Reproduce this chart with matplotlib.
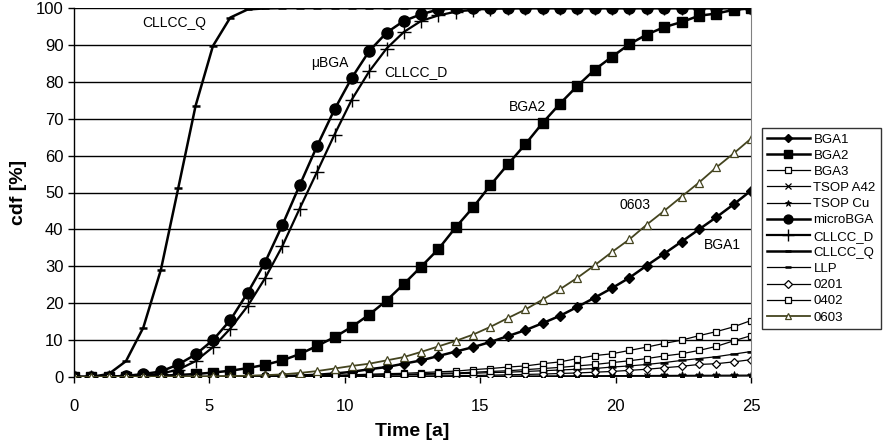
import numpy as np
import matplotlib.pyplot as plt

plt.rcParams['font.family'] = ['Liberation Sans', 'DejaVu Sans']

# time grid (40 points, 0..25 years)
time_a = [0.00, 0.64, 1.28, 1.92, 2.56, 3.21, 3.85, 4.49, 5.13, 5.77,
          6.41, 7.05, 7.69, 8.33, 8.97, 9.62, 10.26, 10.90, 11.54, 12.18,
          12.82, 13.46, 14.10, 14.74, 15.38, 16.03, 16.67, 17.31, 17.95, 18.59,
          19.23, 19.87, 20.51, 21.15, 21.79, 22.44, 23.08, 23.72, 24.36, 25.00]

bga1 = [0, 0, 0, 0, 0, 0, 0.02, 0.03, 0.05, 0.07,
        0.1, 0.15, 0.25, 0.4, 0.6, 0.95, 1.4, 2.1, 2.7, 3.6,
        4.5, 5.7, 6.9, 8.1, 9.5, 11.1, 12.7, 14.6, 16.6, 19.0,
        21.5, 24.1, 26.9, 30.2, 33.4, 36.7, 40.0, 43.3, 46.8, 50.5]
bga2 = [0, 0, 0.05, 0.1, 0.2, 0.35, 0.55, 0.8, 1.2, 1.7,
        2.4, 3.3, 4.5, 6.2, 8.4, 10.8, 13.6, 16.9, 20.7, 25.2,
        29.9, 34.7, 40.6, 46.0, 52.0, 57.7, 63.1, 68.9, 74.1, 78.9,
        83.3, 86.8, 90.2, 92.8, 94.8, 96.2, 97.9, 98.5, 99.5, 99.9]
bga3 = [0, 0, 0, 0, 0, 0, 0, 0, 0.05, 0.05,
        0.1, 0.15, 0.2, 0.3, 0.4, 0.5, 0.6, 0.75, 0.9, 1.0,
        1.2, 1.4, 1.6, 2.0, 2.3, 2.7, 3.0, 3.6, 4.1, 5.0,
        5.8, 6.3, 7.2, 8.1, 9.1, 10.0, 11.2, 12.3, 13.6, 15.3]
tsop_a42 = [0, 0, 0, 0, 0, 0, 0, 0, 0, 0,
            0.02, 0.02, 0.03, 0.03, 0.04, 0.05, 0.05, 0.06, 0.07, 0.08,
            0.08, 0.09, 0.1, 0.11, 0.12, 0.13, 0.14, 0.15, 0.16, 0.17,
            0.18, 0.19, 0.2, 0.21, 0.22, 0.24, 0.25, 0.27, 0.28, 0.3]
tsop_cu = [0, 0, 0, 0, 0, 0, 0, 0, 0.01, 0.02,
           0.03, 0.04, 0.05, 0.06, 0.07, 0.08, 0.1, 0.11, 0.12, 0.14,
           0.15, 0.17, 0.18, 0.2, 0.22, 0.24, 0.26, 0.28, 0.3, 0.32,
           0.34, 0.36, 0.38, 0.4, 0.42, 0.44, 0.46, 0.47, 0.49, 0.5]
micro_bga = [0, 0, 0.1, 0.3, 0.8, 1.5, 3.4, 6.1, 10.0, 15.4,
             22.8, 31.0, 41.1, 51.9, 62.5, 72.5, 81.1, 88.3, 93.3, 96.5,
             98.3, 99.6, 99.9, 100, 100, 100, 100, 100, 100, 100,
             100, 100, 100, 100, 100, 100, 100, 100, 100, 100]
cllcc_d = [0, 0, 0, 0.1, 0.4, 0.9, 2.0, 4.3, 8.1, 13.1,
           19.2, 26.7, 35.4, 45.6, 55.5, 65.7, 75.2, 82.8, 89.0, 93.5,
           96.5, 98.0, 99.0, 99.5, 99.8, 99.9, 100, 100, 100, 100,
           100, 100, 100, 100, 100, 100, 100, 100, 100, 100]
cllcc_q = [0, 0.05, 0.8, 4.3, 13.4, 29.1, 51.2, 73.5, 89.7, 97.4,
           99.6, 99.9, 100, 100, 100, 100, 100, 100, 100, 100,
           100, 100, 100, 100, 100, 100, 100, 100, 100, 100,
           100, 100, 100, 100, 100, 100, 100, 100, 100, 100]
llp = [0, 0, 0, 0, 0, 0, 0, 0.02, 0.04, 0.06,
       0.1, 0.15, 0.2, 0.25, 0.3, 0.35, 0.4, 0.5, 0.55, 0.6,
       0.7, 0.8, 0.9, 1.0, 1.2, 1.3, 1.5, 1.7, 1.9, 2.1,
       2.3, 2.7, 3.0, 3.4, 3.9, 4.5, 5.0, 5.5, 6.2, 6.9]
c0201 = [0, 0, 0, 0, 0, 0, 0, 0, 0.01, 0.03,
         0.05, 0.06, 0.08, 0.1, 0.12, 0.14, 0.16, 0.18, 0.2, 0.22,
         0.25, 0.3, 0.35, 0.4, 0.5, 0.6, 0.7, 0.8, 0.95, 1.1,
         1.3, 1.5, 1.8, 2.1, 2.5, 2.9, 3.4, 3.6, 4.1, 4.7]
c0402 = [0, 0, 0, 0, 0, 0, 0, 0, 0.02, 0.03,
         0.05, 0.1, 0.15, 0.2, 0.25, 0.3, 0.4, 0.5, 0.6, 0.7,
         0.85, 1.0, 1.1, 1.3, 1.5, 1.7, 2.0, 2.3, 2.6, 3.0,
         3.4, 3.9, 4.4, 5.0, 5.7, 6.3, 7.2, 8.3, 9.8, 11.2]
c0603 = [0, 0, 0.02, 0.03, 0.05, 0.07, 0.1, 0.13, 0.17, 0.25,
         0.35, 0.5, 0.7, 1.1, 1.6, 2.3, 3.0, 3.6, 4.5, 5.4,
         6.8, 8.3, 9.8, 11.5, 13.6, 16.0, 18.3, 21.0, 23.8, 26.9,
         30.3, 33.9, 37.3, 41.3, 45.0, 48.9, 52.7, 56.8, 60.6, 64.6]

olive = '#44441f'

fig = plt.figure(figsize=(8.84, 4.45), dpi=100)
ax = fig.add_axes([74/884, 1-377/445, 677/884, 369/445])

ax.plot(time_a, bga1, color='black', lw=1.8, marker='D', ms=5.5, mfc='black', label='BGA1')
ax.plot(time_a, bga2, color='black', lw=1.8, marker='s', ms=6.5, mfc='black', label='BGA2')
ax.plot(time_a, bga3, color='black', lw=0.9, marker='s', ms=5, mfc='white', mew=0.9, label='BGA3')
ax.plot(time_a, tsop_a42, color='black', lw=0.9, marker='x', ms=5, mew=0.9, label='TSOP A42')
ax.plot(time_a, tsop_cu, color='black', lw=0.9, marker='*', ms=6, mew=0.6, label='TSOP Cu')
ax.plot(time_a, micro_bga, color='black', lw=1.8, marker='o', ms=8, mfc='black', label='microBGA')
ax.plot(time_a, cllcc_d, color='black', lw=1.6, marker='+', ms=10, mew=1.0, label='CLLCC_D')
ax.plot(time_a, cllcc_q, color='black', lw=1.8, marker='_', ms=6, mew=1.8, label='CLLCC_Q')
ax.plot(time_a, llp, color='black', lw=0.9, marker='_', ms=6, mew=1.8, label='LLP')
ax.plot(time_a, c0201, color='black', lw=0.9, marker='D', ms=4.5, mfc='white', mew=0.9, label='0201')
ax.plot(time_a, c0402, color='black', lw=0.9, marker='s', ms=5, mfc='white', mew=0.9, label='0402')
ax.plot(time_a, c0603, color=olive, lw=1.3, marker='^', ms=6, mfc='white', mew=0.9, label='0603')

ax.set_xlim(0, 25)
ax.set_ylim(0, 100)
ax.set_xticks([0, 5, 10, 15, 20, 25])
ax.set_yticks(range(0, 101, 10))
ax.yaxis.grid(True, color='black', lw=1)
ax.set_axisbelow(True)
ax.tick_params(axis='both', direction='out', length=4, width=1, labelsize=12, color='black')
ax.tick_params(axis='x', pad=12)
for side in ['top', 'bottom']:
    ax.spines[side].set_visible(False)
ax.spines['right'].set_color('#808080')
ax.spines['left'].set_linewidth(1)

ax.set_xlabel('Time [a]', fontsize=14, fontweight='bold', labelpad=6)
ax.set_ylabel('cdf [%]', fontsize=14, fontweight='bold', labelpad=6)

# curve labels
ax.text(3.71, 95.9, 'CLLCC_Q', fontsize=10, ha='center', va='center')
ax.text(9.45, 85.0, '\u03bcBGA', fontsize=10, ha='center', va='center')
ax.text(12.63, 82.7, 'CLLCC_D', fontsize=10, ha='center', va='center')
ax.text(16.73, 73.3, 'BGA2', fontsize=10, ha='center', va='center')
ax.text(20.70, 46.6, '0603', fontsize=10, ha='center', va='center')
ax.text(23.93, 35.8, 'BGA1', fontsize=10, ha='center', va='center')

leg = ax.legend(loc='upper left', bbox_to_anchor=(762/884, 1-128/445), bbox_transform=fig.transFigure,
                fontsize=9.5, labelspacing=0.3, handlelength=3.2, handletextpad=0.3, markerscale=0.8,
                borderpad=0.4, borderaxespad=0, fancybox=False, frameon=True)
leg.get_frame().set_edgecolor('black')
leg.get_frame().set_linewidth(1)

fig.savefig('out.png', dpi=100)
